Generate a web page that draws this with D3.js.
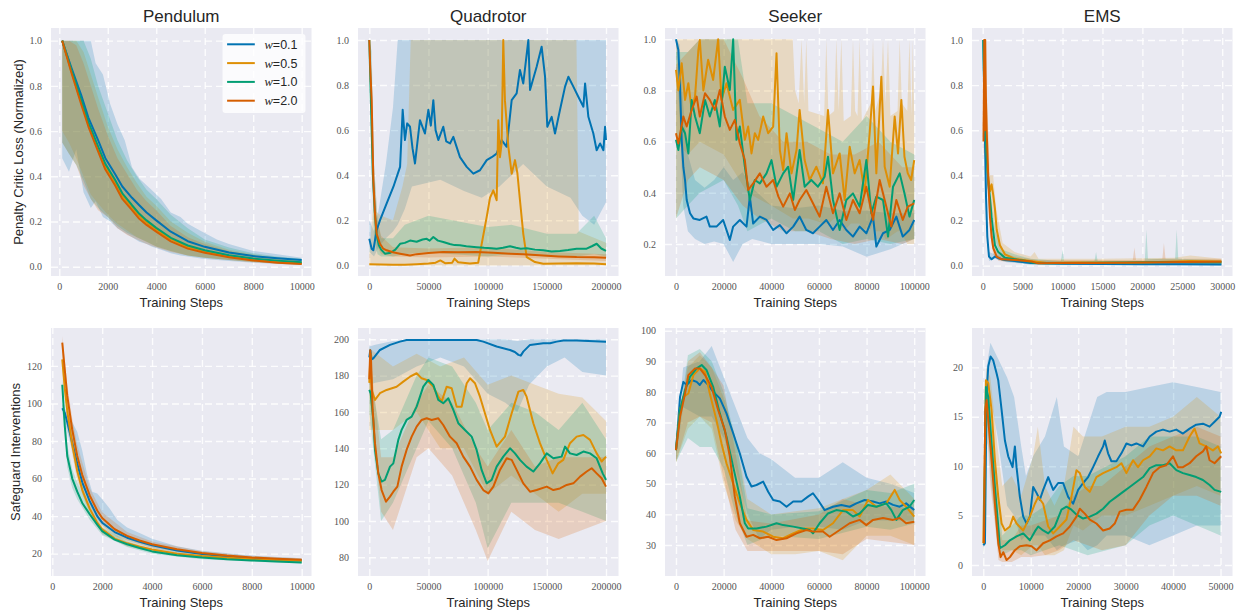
<!DOCTYPE html>
<html>
<head>
<meta charset="utf-8">
<script src="https://cdn.jsdelivr.net/npm/d3@7"></script>
<style>
    body { margin: 0; background: #fff; }
    .grid line { stroke: #fff; stroke-width: 1.4; stroke-dasharray: 7 4; opacity: 0.85; }
    .grid .domain { display: none; }
    .axis .domain { display: none; }
    .axis text { font-family: "Liberation Serif", serif; font-size: 10px; fill: #555; }
    .visTitle { font-family: "Liberation Sans", Arial, sans-serif; font-size: 17px; fill: #262626; }
    .axisLabel { font-family: "Liberation Sans", Arial, sans-serif; font-size: 13px; fill: #262626; }
    .legendText { font-family: "Liberation Sans", Arial, sans-serif; font-size: 12.5px; fill: #262626; }
</style>
</head>
<body>
<div id="chart"></div>
<script>
// ---- data: [step, value] for means, [step, lower, upper] for bands ----

// Pendulum - penalty critic loss
const pendLoss01 = [[120,1.0],[500,0.88],[900,0.76],[1200,0.66],[1600,0.56],[1900,0.48],[2300,0.41],[2600,0.355],[3000,0.305],[3300,0.272],[3600,0.24],[4000,0.205],[4600,0.155],[5300,0.113],[6000,0.088],[7000,0.063],[8000,0.047],[9000,0.038],[10000,0.03]];
const pendLoss05 = [[120,1.0],[500,0.865],[900,0.73],[1200,0.63],[1600,0.52],[1900,0.445],[2300,0.375],[2600,0.315],[3000,0.262],[3300,0.225],[3600,0.196],[4000,0.165],[4600,0.122],[5300,0.088],[6000,0.068],[7000,0.047],[8000,0.032],[9000,0.022],[10000,0.016]];
const pendLoss10 = [[120,1.0],[500,0.87],[900,0.74],[1200,0.64],[1600,0.532],[1900,0.455],[2300,0.385],[2600,0.325],[3000,0.272],[3300,0.234],[3600,0.205],[4000,0.172],[4600,0.128],[5300,0.094],[6000,0.073],[7000,0.051],[8000,0.036],[9000,0.027],[10000,0.02]];
const pendLoss20 = [[120,1.0],[500,0.858],[900,0.72],[1200,0.62],[1600,0.51],[1900,0.43],[2300,0.36],[2600,0.30],[3000,0.25],[3300,0.212],[3600,0.185],[4000,0.155],[4600,0.112],[5300,0.08],[6000,0.062],[7000,0.042],[8000,0.028],[9000,0.018],[10000,0.012]];
const pendLossBand01 = [[120,0.48,1.0],[400,0.42,1.0],[700,0.52,1.0],[1000,0.33,1.0],[1300,0.26,1.0],[1500,0.29,0.9],[1800,0.22,0.85],[2100,0.2,0.72],[2400,0.17,0.63],[2700,0.15,0.56],[3000,0.13,0.44],[3300,0.11,0.39],[3600,0.1,0.36],[3800,0.09,0.34],[4200,0.075,0.3],[4600,0.06,0.24],[5000,0.05,0.22],[5300,0.045,0.19],[5900,0.035,0.155],[6500,0.03,0.12],[7000,0.025,0.1],[8000,0.018,0.07],[9000,0.012,0.055],[10000,0.008,0.04]];
const pendLossBand05 = [[120,0.6,1.0],[400,0.55,1.0],[700,0.48,1.0],[1000,0.4,0.95],[1300,0.32,0.85],[1600,0.28,0.75],[2000,0.23,0.62],[2400,0.19,0.52],[2800,0.16,0.44],[3200,0.13,0.37],[3600,0.11,0.31],[4000,0.09,0.27],[4600,0.07,0.2],[5300,0.05,0.15],[6000,0.04,0.11],[7000,0.03,0.075],[8000,0.02,0.055],[9000,0.015,0.04],[10000,0.01,0.03]];
const pendLossBand10 = [[120,0.55,1.0],[400,0.5,1.0],[700,0.45,1.0],[1000,0.38,1.0],[1300,0.3,0.92],[1600,0.26,0.8],[2000,0.22,0.68],[2400,0.18,0.56],[2800,0.15,0.47],[3200,0.13,0.4],[3600,0.11,0.34],[4000,0.09,0.3],[4600,0.07,0.23],[5300,0.05,0.17],[6000,0.04,0.12],[7000,0.03,0.085],[8000,0.022,0.06],[9000,0.015,0.045],[10000,0.01,0.035]];
const pendLossBand20 = [[120,0.55,1.0],[400,0.5,1.0],[700,0.45,0.98],[1000,0.36,0.9],[1300,0.3,0.8],[1600,0.25,0.7],[2000,0.22,0.58],[2400,0.17,0.48],[2800,0.14,0.41],[3200,0.12,0.34],[3600,0.1,0.29],[4000,0.085,0.25],[4600,0.065,0.18],[5300,0.05,0.13],[6000,0.04,0.1],[7000,0.03,0.07],[8000,0.02,0.05],[9000,0.013,0.035],[10000,0.008,0.025]];

// Quadrotor - penalty critic loss
const quadLoss01 = [[0,0.118],[2000,0.074],[3400,0.067],[6200,0.156],[9000,0.2],[14600,0.274],[20300,0.348],[26000,0.437],[28200,0.69],[30100,0.556],[32000,0.63],[34400,0.615],[36500,0.52],[38600,0.452],[42800,0.644],[47000,0.585],[49900,0.69],[52000,0.62],[54100,0.733],[56000,0.6],[58300,0.556],[62500,0.615],[65000,0.55],[68200,0.541],[71000,0.57],[76600,0.48],[82300,0.437],[87900,0.407],[93500,0.422],[99200,0.467],[103400,0.48],[107600,0.496],[111800,0.556],[116100,0.526],[120300,0.733],[124500,0.763],[127300,0.867],[130100,0.807],[134400,1.0],[135800,0.778],[141400,0.881],[145600,0.97],[148500,0.837],[150400,0.615],[154100,0.659],[156900,0.585],[161100,0.689],[165400,0.793],[168200,0.837],[172400,0.793],[176600,0.748],[180900,0.704],[182300,0.807],[185100,0.659],[189300,0.585],[192100,0.511],[195000,0.541],[197800,0.511],[199200,0.615],[200000,0.556]];
const quadLoss05 = [[0,0.005],[10000,0.004],[20000,0.003],[30000,0.003],[40000,0.005],[50000,0.008],[56000,0.012],[60000,0.022],[64000,0.01],[70000,0.012],[72000,0.03],[75000,0.014],[85000,0.008],[92000,0.012],[95000,0.096],[99200,0.215],[102000,0.30],[104800,0.333],[107600,0.289],[109000,0.644],[110400,0.48],[111800,0.54],[113200,1.0],[114600,0.733],[117500,0.526],[120300,0.407],[123100,0.467],[125100,0.41],[127300,0.289],[130100,0.14],[133000,0.037],[140000,0.015],[147000,0.007],[160000,0.008],[175000,0.01],[190000,0.008],[200000,0.005]];
const quadLoss10 = [[0,1.0],[1500,0.7],[3000,0.4],[4500,0.25],[6000,0.14],[8000,0.09],[10000,0.07],[13200,0.052],[18000,0.056],[22000,0.07],[26000,0.096],[30000,0.1],[34400,0.11],[40000,0.105],[45000,0.115],[48500,0.118],[51000,0.11],[54100,0.126],[58000,0.11],[62500,0.104],[68000,0.095],[72000,0.09],[76600,0.089],[82000,0.085],[90700,0.081],[97000,0.078],[103000,0.076],[107600,0.074],[113000,0.078],[118900,0.085],[124000,0.078],[128000,0.074],[133000,0.076],[140000,0.07],[147000,0.067],[154000,0.062],[161100,0.064],[168000,0.068],[175200,0.074],[183600,0.074],[188000,0.085],[192100,0.096],[196000,0.075],[200000,0.064]];
const quadLoss20 = [[0,1.0],[1000,0.85],[2000,0.733],[3400,0.378],[4800,0.23],[6200,0.14],[9000,0.096],[11800,0.074],[14600,0.067],[20000,0.058],[26000,0.052],[34400,0.044],[40000,0.05],[50000,0.055],[62500,0.059],[75000,0.058],[90700,0.059],[105000,0.056],[118900,0.052],[130000,0.05],[147000,0.044],[160000,0.04],[175200,0.037],[190000,0.036],[200000,0.034]];
const quadLossBand01 = [[0,0.06,0.2],[4000,0.04,0.15],[8000,0.08,0.25],[14000,0.12,0.45],[20000,0.15,0.7],[24000,0.18,1.0],[30000,0.25,1.0],[36000,0.35,1.0],[60000,0.38,1.0],[80000,0.33,1.0],[95000,0.3,1.0],[110000,0.35,1.0],[130000,0.45,1.0],[150000,0.35,1.0],[170000,0.3,1.0],[180000,0.22,1.0],[190000,0.18,1.0],[200000,0.28,1.0]];
const quadLossBand05 = [[0,0.0,0.05],[3000,0.0,0.25],[10000,0.0,0.22],[20000,0.0,0.2],[28000,0.0,0.35],[32000,0.0,0.45],[35000,0.0,1.0],[175000,0.0,1.0],[177000,0.0,0.15],[200000,0.0,0.1]];
const quadLossBand10 = [[0,0.9,1.0],[2000,0.45,0.95],[4000,0.12,0.45],[7000,0.05,0.2],[10000,0.04,0.12],[20000,0.04,0.12],[30000,0.05,0.18],[50000,0.06,0.22],[70000,0.05,0.2],[100000,0.04,0.17],[120000,0.05,0.18],[150000,0.04,0.14],[175000,0.04,0.14],[190000,0.05,0.22],[200000,0.04,0.12]];
const quadLossBand20 = [[0,0.98,1.0],[2000,0.6,0.85],[4000,0.2,0.45],[7000,0.08,0.2],[10000,0.05,0.13],[20000,0.04,0.08],[50000,0.035,0.075],[100000,0.04,0.08],[150000,0.03,0.06],[200000,0.02,0.05]];

// Seeker - penalty critic loss
const seekLoss01 = [[0,1.0],[1000,0.958],[1700,0.815],[2400,0.607],[3100,0.50],[3800,0.45],[4500,0.372],[5900,0.32],[7300,0.30],[10000,0.294],[12800,0.307],[14200,0.268],[17000,0.268],[19800,0.294],[22600,0.216],[24000,0.268],[26800,0.294],[29600,0.268],[31000,0.385],[32400,0.28],[35200,0.307],[38000,0.294],[40800,0.255],[43600,0.274],[46400,0.242],[49200,0.268],[51900,0.307],[54700,0.255],[57500,0.242],[60300,0.268],[63100,0.294],[65900,0.255],[68700,0.294],[71500,0.255],[74300,0.229],[77100,0.268],[79900,0.242],[82700,0.307],[84100,0.19],[86900,0.242],[89700,0.255],[92500,0.307],[95200,0.229],[98000,0.255],[100000,0.294]];
const seekLoss05 = [[0,0.88],[1000,0.80],[2400,0.906],[3800,0.763],[5200,0.828],[6600,0.724],[8000,0.776],[9400,0.958],[10000,0.997],[11500,0.80],[13500,0.92],[15600,0.841],[17700,1.0],[19100,0.763],[21200,0.828],[24000,0.724],[26800,0.763],[28900,0.607],[30300,0.659],[31700,0.554],[33100,0.633],[34500,0.607],[36600,0.698],[38700,0.633],[40800,0.659],[42200,0.945],[43600,0.567],[45000,0.489],[46400,0.633],[48500,0.476],[50600,0.567],[51900,0.724],[54000,0.528],[56100,0.45],[58900,0.502],[61700,0.437],[63800,0.724],[65900,0.476],[68700,0.554],[70800,0.372],[72900,0.58],[75000,0.476],[77100,0.528],[79200,0.398],[81300,0.633],[82700,0.815],[84100,0.476],[86200,0.854],[87600,0.502],[89700,0.424],[91800,0.698],[93200,0.554],[94600,0.763],[95900,0.541],[97300,0.476],[98700,0.45],[100000,0.528]];
const seekLoss10 = [[0,0.607],[1000,0.567],[2400,0.659],[3800,0.633],[5200,0.554],[6600,0.763],[8000,0.698],[10000,0.633],[12200,0.763],[14200,0.698],[16300,0.763],[18400,0.659],[20500,0.893],[22600,0.802],[24000,1.0],[25400,0.607],[26800,0.659],[28900,0.502],[31000,0.372],[33100,0.45],[35200,0.437],[38000,0.476],[40100,0.528],[42200,0.424],[45000,0.476],[47100,0.502],[49200,0.372],[51900,0.567],[54000,0.424],[56800,0.45],[59600,0.424],[62400,0.463],[63800,0.541],[65900,0.372],[68700,0.255],[71500,0.372],[74300,0.398],[77100,0.346],[79900,0.528],[82000,0.32],[84100,0.385],[86900,0.372],[89000,0.229],[91100,0.424],[93900,0.476],[95900,0.398],[98000,0.307],[100000,0.372]];
const seekLoss20 = [[0,0.633],[1000,0.593],[3100,0.698],[4500,0.659],[6600,0.724],[8700,0.776],[10000,0.698],[12200,0.789],[14200,0.763],[16300,0.724],[18400,0.802],[20500,0.698],[22600,0.646],[24700,0.685],[26800,0.593],[28900,0.528],[30300,0.411],[32400,0.437],[35200,0.476],[38000,0.424],[40800,0.45],[43000,0.385],[45000,0.346],[47800,0.398],[49900,0.333],[51900,0.372],[54700,0.411],[57500,0.359],[60300,0.307],[63100,0.424],[65900,0.32],[68700,0.398],[71500,0.294],[74300,0.372],[77100,0.32],[79900,0.424],[82700,0.294],[85500,0.45],[88300,0.346],[90400,0.268],[92500,0.372],[95200,0.294],[97300,0.346],[100000,0.359]];
const seekLossBand01 = [[0,0.95,1.0],[1500,0.7,0.98],[3000,0.35,0.75],[5000,0.25,0.55],[8000,0.22,0.45],[12000,0.2,0.42],[16000,0.21,0.45],[20000,0.2,0.5],[24000,0.13,0.45],[28000,0.2,0.48],[32000,0.22,0.42],[40000,0.2,0.35],[50000,0.2,0.34],[60000,0.2,0.35],[70000,0.19,0.33],[80000,0.15,0.33],[90000,0.18,0.32],[100000,0.22,0.32]];
const seekLossBand05 = [[0,0.6,1.0],[5000,0.55,1.0],[10000,0.6,1.0],[20000,0.55,1.0],[30000,0.4,1.0],[40000,0.35,1.0],[49000,0.3,1.0],[50000,0.3,0.8],[51500,0.3,0.75],[52700,0.3,1.0],[53800,0.3,0.75],[54700,0.3,1.0],[55600,0.3,0.72],[62200,0.28,0.7],[63100,0.28,1.0],[64000,0.28,0.7],[66400,0.3,0.72],[67300,0.3,1.0],[68300,0.3,0.72],[69400,0.28,1.0],[70400,0.25,0.68],[73400,0.28,0.7],[74300,0.28,1.0],[75200,0.28,0.72],[76200,0.28,0.7],[77100,0.28,1.0],[78000,0.26,0.68],[81800,0.26,0.75],[82700,0.28,1.0],[83600,0.25,0.72],[86000,0.25,0.8],[86900,0.24,1.0],[87900,0.22,0.75],[89000,0.22,1.0],[90000,0.23,0.7],[93000,0.25,0.72],[93900,0.25,1.0],[94800,0.24,0.75],[97100,0.2,0.72],[98000,0.2,1.0],[98900,0.2,0.7],[99400,0.2,1.0],[100000,0.2,0.7]];
const seekLossBand10 = [[0,0.3,0.95],[5000,0.35,0.95],[10000,0.4,1.0],[20000,0.45,1.0],[26000,0.35,1.0],[30000,0.25,0.75],[40000,0.3,0.75],[50000,0.25,0.7],[60000,0.25,0.65],[70000,0.2,0.6],[80000,0.22,0.7],[90000,0.2,0.6],[100000,0.22,0.55]];
const seekLossBand20 = [[0,0.3,0.9],[5000,0.45,0.95],[10000,0.5,1.0],[20000,0.45,1.0],[28000,0.35,0.85],[35000,0.3,0.7],[45000,0.25,0.6],[55000,0.25,0.6],[65000,0.22,0.55],[75000,0.2,0.55],[85000,0.22,0.6],[95000,0.2,0.5],[100000,0.22,0.5]];

// EMS - penalty critic loss
const emsLoss01 = [[80,1.0],[165,0.8],[290,0.557],[415,0.306],[580,0.128],[790,0.04],[1120,0.028],[1540,0.04],[1960,0.033],[2790,0.025],[4040,0.02],[6000,0.012],[10000,0.008],[15000,0.007],[20000,0.006],[25000,0.006],[29900,0.005]];
const emsLoss05 = [[150,0.6],[220,1.0],[300,0.7],[450,0.55],[600,0.42],[912,0.33],[1120,0.36],[1330,0.31],[1540,0.25],[1750,0.16],[2160,0.09],[2790,0.05],[4040,0.03],[6000,0.02],[8000,0.012],[12000,0.014],[18000,0.013],[22000,0.016],[26000,0.02],[29900,0.018]];
const emsLoss10 = [[80,1.0],[205,0.75],[500,0.48],[705,0.36],[912,0.3],[1120,0.21],[1330,0.15],[1540,0.09],[1960,0.06],[2790,0.035],[4000,0.028],[5500,0.02],[6500,0.012],[8000,0.01],[12000,0.012],[18000,0.014],[24000,0.016],[29900,0.015]];
const emsLoss20 = [[100,0.55],[200,1.0],[260,0.6],[320,1.0],[400,0.75],[500,0.6],[705,0.38],[912,0.217],[1120,0.128],[1330,0.077],[1750,0.04],[2370,0.028],[4040,0.025],[6120,0.018],[6950,0.01],[9000,0.012],[14000,0.012],[20000,0.014],[25000,0.016],[29900,0.017]];
const emsLossBand01 = [[80,0.95,1.0],[300,0.45,0.65],[600,0.08,0.18],[800,0.02,0.06],[1500,0.03,0.05],[3000,0.015,0.035],[6000,0.005,0.02],[29900,0.0,0.012]];
const emsLossBand05 = [[150,0.5,1.0],[500,0.5,0.8],[900,0.25,0.4],[1300,0.22,0.4],[1700,0.1,0.25],[2500,0.03,0.1],[4000,0.02,0.06],[6000,0.01,0.04],[6500,0.01,0.06],[7000,0.01,0.03],[15000,0.005,0.03],[24000,0.005,0.035],[26000,0.005,0.045],[29900,0.005,0.03]];
const emsLossBand10 = [[80,0.9,1.0],[300,0.5,0.8],[700,0.28,0.45],[1100,0.15,0.28],[1600,0.05,0.15],[2500,0.02,0.07],[4000,0.015,0.05],[6000,0.005,0.03],[9800,0.005,0.02],[10000,0.005,0.07],[10200,0.005,0.02],[14000,0.005,0.02],[14200,0.005,0.06],[14400,0.005,0.02],[20300,0.005,0.02],[20500,0.005,0.16],[20700,0.005,0.03],[24100,0.005,0.03],[24300,0.005,0.16],[24500,0.005,0.03],[29900,0.005,0.025]];
const emsLossBand20 = [[100,0.5,1.0],[500,0.45,0.75],[900,0.15,0.3],[1300,0.05,0.12],[2000,0.02,0.06],[4000,0.015,0.04],[7000,0.005,0.025],[18800,0.005,0.025],[19000,0.005,0.08],[19200,0.005,0.025],[22500,0.005,0.03],[22700,0.005,0.1],[22900,0.005,0.03],[29900,0.005,0.03]];

// Pendulum - safeguard interventions
const pendInt01 = [[400,97.4],[500,95],[600,90],[800,79],[1000,68],[1200,58],[1500,48],[1800,40],[2000,36.5],[2500,31.5],[3000,28.5],[3500,26.3],[4000,24.5],[5000,21.7],[6000,19.8],[7000,18.5],[8000,17.6],[9000,17],[10000,16.5]];
const pendInt05 = [[400,123.5],[500,108],[600,96],[800,78],[1000,64],[1200,54],[1500,44],[1800,36.5],[2000,33],[2500,28],[3000,25.5],[3500,23.7],[4000,22.2],[5000,20],[6000,18.7],[7000,17.8],[8000,17.1],[9000,16.6],[10000,16.2]];
const pendInt10 = [[400,110],[500,88],[600,72],[800,60],[1000,53],[1200,47],[1500,41],[1800,35.5],[2000,32],[2500,27.5],[3000,25],[3500,23],[4000,21.2],[5000,19.2],[6000,17.9],[7000,17],[8000,16.4],[9000,15.8],[10000,15.3]];
const pendInt20 = [[400,132.4],[500,118],[600,104],[800,86],[1000,72],[1200,62],[1500,51],[1800,43],[2000,39],[2500,33],[3000,29.5],[3500,27],[4000,25],[5000,22.3],[6000,20.3],[7000,19],[8000,18],[9000,17.3],[10000,16.8]];
const pendIntBand01 = [[400,95,100],[600,85,95],[800,75,90],[1000,62,85],[1200,52,75],[1400,46,62],[1600,42,53],[1800,38,52],[2000,35,49],[2300,32,44],[2600,29,38],[3000,27,34],[3500,25,31],[4000,23,28],[5000,20.5,24],[6000,18.5,21.5],[8000,16.8,19],[10000,15.8,17.5]];
const pendIntBand05 = [[400,118,128],[600,90,102],[800,73,84],[1000,59,69],[1500,41,48],[2000,30.5,36],[3000,24,27.5],[4000,21,23.5],[6000,17.8,19.6],[8000,16.4,17.8],[10000,15.6,16.8]];
const pendIntBand10 = [[400,106,114],[600,66,78],[800,55,65],[1000,49,58],[1500,38,44],[2000,30,34],[3000,23.5,26.5],[4000,20,22.5],[6000,17,18.8],[8000,15.8,17],[10000,14.8,15.8]];
const pendIntBand20 = [[400,128,136],[600,98,110],[800,80,92],[1000,66,78],[1500,47,55],[2000,36,42],[3000,27.5,31.5],[4000,23.5,26.5],[6000,19.3,21.3],[8000,17.2,18.8],[10000,16.1,17.5]];

// Quadrotor - safeguard interventions
const quadInt01 = [[0,190],[800,194],[2000,189],[3400,189.5],[9000,194.1],[17500,196.9],[25900,198.7],[31500,199.6],[62500,199.6],[90700,199.6],[96300,198.7],[107600,196],[118900,194.1],[123000,193],[126000,191.4],[128000,191],[130100,193.2],[135800,196.9],[147000,197.8],[152700,197.8],[158300,198.7],[164000,199.3],[175200,199.3],[200000,198.7]];
const quadInt05 = [[0,176],[1000,192],[2000,172],[4800,166.6],[9000,170.3],[14600,172.1],[23100,173.9],[28700,176.7],[34400,179.4],[40000,181.3],[44200,178.5],[48500,177.6],[54100,173.9],[58300,168.4],[61100,165.7],[65400,173.9],[69600,173],[73800,162.9],[78000,162.9],[82300,175.8],[85100,178.5],[89300,175.8],[93500,168.4],[102000,150.1],[107600,140.9],[114600,146.4],[120300,159.3],[126000,171.2],[130100,172.1],[132900,168.4],[138600,153.8],[144200,142.8],[149900,133.6],[154900,126.2],[159700,131.7],[163900,133.6],[169600,142.8],[175200,146.4],[180900,147.3],[186500,144.6],[192100,137.2],[196300,132.7],[200000,135.4]];
const quadInt10 = [[0,172.1],[1200,170],[3400,155.6],[4800,139.1],[7600,126.2],[10400,121.7],[13200,122.6],[17500,129.9],[20300,131.7],[24500,144.6],[27300,150.1],[31500,155.6],[35800,157.4],[40000,162.9],[45600,173.9],[49900,177.6],[54100,174.9],[58300,166.6],[62500,164.8],[66800,167.5],[71000,161.1],[75200,153.8],[80800,150.1],[86500,146.4],[90700,139.1],[94900,128.1],[99200,120.7],[103400,122.6],[107600,129.9],[113200,135.4],[118900,140],[123100,137.2],[127300,133.6],[132900,129.9],[138600,127.2],[144200,131.7],[149900,137.2],[155500,134.5],[162500,135.4],[165400,140.9],[169600,137.2],[175200,136.3],[180900,138.2],[186500,137.2],[192100,134.5],[197200,126.2],[200000,122.6]];
const quadInt20 = [[0,178],[800,194],[1500,188],[2800,161.1],[4800,142.8],[7600,126.2],[10400,117],[14100,110.6],[17500,113.4],[20300,116.1],[23700,118.9],[27300,129.9],[31500,139.1],[35800,146.4],[40000,151.9],[44200,155.6],[48500,156.5],[52700,155.6],[58300,156.5],[62500,152.8],[68200,146.4],[73800,142.8],[79400,135.4],[85100,129.9],[90700,122.6],[96300,117],[100600,115.2],[104800,118.9],[110400,128.1],[116100,134.5],[120300,133.6],[124500,128.1],[130100,120.7],[135800,116.1],[141400,117],[149900,118.9],[155500,117],[161100,117.9],[166800,119.8],[172400,120.7],[178100,124.4],[183700,127.2],[187900,129],[192100,126.2],[196300,123.5],[200000,118.9]];
const quadIntBand01 = [[0,175,196],[5000,176,197],[20000,178,199],[40000,185,200],[60000,190,200],[80000,185,200],[100000,170,200],[115000,165,200],[125000,160,199],[135000,175,200],[150000,185,200],[165000,190,200],[180000,182,200],[200000,180,200]];
const quadIntBand05 = [[0,150,195],[20000,150,185],[40000,160,192],[60000,140,185],[80000,140,190],[100000,115,175],[120000,125,180],[140000,115,175],[160000,105,170],[180000,115,168],[200000,115,155]];
const quadIntBand10 = [[0,160,185],[10000,100,145],[20000,110,150],[40000,140,180],[50000,155,190],[70000,140,185],[90000,110,165],[100000,85,150],[120000,110,165],[140000,110,160],[160000,110,150],[180000,105,165],[200000,100,145]];
const quadIntBand20 = [[0,170,195],[10000,105,135],[20000,95,135],[40000,135,165],[50000,140,175],[70000,125,165],[90000,95,140],[100000,78,130],[120000,105,150],[140000,95,130],[160000,90,135],[180000,95,135],[200000,100,135]];

// Seeker - safeguard interventions
const seekInt01 = [[0,61],[1000,70.8],[1700,78.4],[3100,83.3],[4500,82.3],[6600,83.9],[8700,83.3],[10000,82.3],[11500,83.9],[13500,82.3],[15600,80.1],[18400,77.9],[21200,73],[24000,66.5],[26800,59.9],[29600,52.3],[31700,49.1],[33800,49.6],[36600,50.7],[38700,47.4],[40800,44.7],[43600,44.2],[46400,42.5],[49200,44.2],[52700,44.2],[55400,45.8],[57500,46.9],[59600,44.7],[62400,41.4],[65900,42.5],[69400,43.1],[72900,42.5],[75700,43.6],[79200,44.7],[82700,44.2],[85500,43.6],[88300,44.2],[91100,43.1],[93900,42.5],[96600,43.6],[100000,41.4]];
const seekInt05 = [[0,61],[1700,74.1],[3100,78.4],[5200,79.5],[7300,85.5],[10000,87.7],[12200,86.6],[14200,79.5],[17000,70.8],[19100,63.2],[21200,56.7],[24000,50.1],[26800,43.6],[29600,38.2],[32400,34.9],[36600,34.4],[40800,32.7],[45000,32.2],[49200,33.8],[54000,35.4],[57500,35.4],[61700,34.9],[65900,37.1],[70100,41.4],[74300,41.4],[77100,39.3],[80600,44.7],[84100,42.5],[88300,43.6],[91800,48],[93900,44.7],[96600,42.5],[100000,39.3]];
const seekInt10 = [[0,61],[1700,74.1],[3800,80.6],[5900,85],[8700,87.7],[10800,88.8],[12800,87.2],[15600,81.7],[18400,73],[21200,65.4],[24000,55.6],[26800,45.8],[28900,37.1],[30300,35.4],[33800,35.4],[38000,36],[42200,37.1],[45000,36.5],[49200,36],[53300,35.4],[56100,34.9],[57500,33.8],[60300,37.1],[63800,40.3],[67300,41.4],[71500,40.9],[74300,39.3],[77100,40.3],[80600,43.1],[84100,42.5],[88300,43.6],[90400,41.4],[92500,38.2],[95200,41.4],[98000,42.5],[100000,44.7]];
const seekInt20 = [[0,61],[1700,71.9],[3800,79.5],[5200,85.5],[8000,87.7],[10000,87.7],[12200,85.5],[14900,81.7],[17700,74.1],[20500,67.6],[22600,58.9],[24700,45.8],[26800,37.1],[29600,32.7],[32400,33.3],[35200,32.2],[38700,32.7],[42200,31.6],[46400,32.2],[50600,33.8],[54700,34.9],[57500,34.4],[61700,34.4],[64500,32.7],[68700,34.9],[72900,37.1],[77100,38.2],[79900,36.5],[82700,38.2],[86900,38.8],[91100,38.2],[93900,38.8],[96600,37.1],[100000,37.6]];
const seekIntBand01 = [[0,58,63],[3000,75,88],[10000,72,90],[15000,72,95],[20000,65,85],[25000,55,75],[30000,40,65],[35000,32,60],[40000,35,58],[50000,36,52],[60000,36,52],[70000,35,57],[80000,38,52],[90000,38,50],[100000,38,47]];
const seekIntBand05 = [[0,57,63],[5000,68,88],[10000,72,92],[15000,68,88],[20000,50,78],[25000,38,65],[30000,32,45],[40000,27,40],[50000,27,41],[60000,28,42],[70000,25,45],[80000,33,48],[90000,33,53],[100000,30,45]];
const seekIntBand10 = [[0,57,63],[5000,65,92],[10000,62,94],[15000,62,90],[20000,55,80],[25000,40,65],[30000,30,42],[40000,33,40],[60000,32,41],[80000,36,48],[90000,35,47],[100000,37,50]];
const seekIntBand20 = [[0,57,63],[5000,70,90],[10000,72,93],[15000,70,88],[20000,52,82],[25000,35,60],[30000,28,38],[40000,28,37],[60000,28,40],[70000,27,45],[80000,32,43],[100000,30,42]];

// EMS - safeguard interventions
const emsInt01 = [[0,2.0],[350,2.2],[700,17.4],[1050,20.1],[1540,21.1],[2100,20.7],[2800,19.4],[3150,18.7],[3860,15.7],[4560,12.6],[5260,11],[6170,9.9],[6660,12],[7010,9.9],[7710,6.9],[8420,4.9],[9120,4.2],[9820,4.9],[10520,7.9],[11220,7.3],[11920,6.6],[12620,7.6],[13680,8.9],[14730,7.6],[15780,8.3],[16830,8.3],[17880,6.9],[18930,6.2],[19990,7.6],[21040,8.3],[22090,8.9],[23140,9.9],[24200,11],[25250,12],[25600,12.6],[26300,11.3],[27000,10.5],[28050,10.5],[29110,11.3],[30160,12.3],[31210,12.1],[32260,12.3],[33670,12],[35070,13],[36470,13.5],[37870,13.7],[39270,13.5],[40680,13.7],[42080,13.3],[43480,13.8],[44880,14.2],[46290,14.3],[47690,14],[48740,14.5],[49790,15],[50140,15.5]];
const emsInt05 = [[0,2.2],[560,18.7],[1050,18.4],[1750,15.7],[2450,10.6],[3160,6.9],[3860,4.2],[4560,3.5],[5610,3.9],[6310,4.9],[7010,4.2],[8420,3.5],[9820,4.9],[10870,6.2],[11570,6.9],[12620,6.2],[13680,3.9],[14730,3.2],[16130,3.9],[17530,4.6],[18580,6.9],[19640,9.6],[20340,9.3],[21390,7.9],[22440,7.4],[23840,8.9],[25250,9.3],[26650,9.6],[28050,9.9],[29110,10.3],[30160,9.3],[31560,10.6],[32610,9.9],[33670,10.6],[35070,11],[36470,11.8],[37870,11.6],[39270,12],[40680,11.6],[42080,11.6],[43480,13],[44530,13.8],[45590,12.3],[46990,12],[48390,11.6],[49440,12],[50140,11.3]];
const emsInt10 = [[140,2.2],[560,18],[1050,17],[1750,12.3],[2450,7.9],[3160,3.9],[3510,1.7],[4560,2],[5610,2.5],[7010,2.9],[8420,3.2],[9820,2.5],[10870,3.4],[11570,3.9],[12620,3.5],[13680,3.2],[15080,3.9],[16480,5.6],[17530,5.9],[18580,5.6],[19640,5.1],[21040,4.7],[22440,4.9],[23840,5.2],[25250,5.7],[26650,6.4],[28050,6.9],[29460,7.4],[30860,7.9],[32260,8.4],[33670,8.9],[35070,9.8],[36470,10.1],[37870,10.1],[39270,10.3],[40680,9.6],[42080,9.3],[43480,9.1],[44880,8.9],[46290,8.6],[47690,8.1],[48740,7.6],[50140,7.4]];
const emsInt20 = [[140,2.2],[420,15.7],[700,16.7],[1050,14.7],[1750,10.6],[2450,6.2],[3160,2.2],[3650,0.8],[4210,1.3],[4910,0.5],[5610,0.8],[6660,1.5],[7710,1.9],[9120,2],[10170,1.9],[11220,1.5],[12620,2.2],[14030,2.5],[15430,2.9],[16830,3.2],[18230,3.9],[19640,4.9],[20340,5.7],[21390,5.2],[22440,4.6],[23840,4.2],[25250,3.5],[26650,3.7],[27700,4.2],[28750,5.4],[30160,5.6],[31560,5.6],[32960,6.6],[34370,7.9],[35770,9.3],[37170,9.9],[38570,10.1],[39980,11],[41030,9.9],[42080,9.9],[43480,10.3],[44880,11],[46290,11.5],[46990,12],[47690,10.6],[48740,10.3],[50140,11]];
const emsIntBand01 = [[0,1,3],[700,14,20],[1500,17,22.5],[3000,13,21],[5000,6,19],[6500,5,17],[8000,2.5,12],[9000,3,9],[10500,3,11],[13000,3,13],[15500,1.5,17],[17000,2,12],[20000,2.5,11],[22000,1.5,14],[24000,2,17],[26000,3,17.5],[30000,3,17.5],[35000,2,18],[40000,3,18.5],[45000,4,18],[50000,4,17.5]];
const emsIntBand05 = [[0,1,3],[600,16,20],[1500,11,19],[3000,4,12],[4000,1.5,8],[6000,1.5,9],[8000,1,7],[10500,2,11],[11500,2,14],[13000,1,8],[15000,1,6],[17000,1.5,8],[19000,4,14],[21000,3.5,13],[25000,5,13],[30000,5,14],[35000,6,14],[40000,7,15],[45000,8,17],[50000,7,15]];
const emsIntBand10 = [[0,1,3],[600,16,19],[1500,9,16],[3000,2,8],[4000,1,3],[6000,1.5,4],[8000,1.5,5],[10000,1,5],[13000,1.5,6],[16000,2,8],[19000,1.5,9],[22000,1,9],[26000,1.5,10],[30000,2,11],[35000,4,13],[40000,5,13],[45000,4,13],[50000,3,12]];
const emsIntBand20 = [[0,1,3],[400,13,18],[1000,12,17],[1500,8,14],[2500,4,9],[3200,0.5,4],[4000,0.3,2.5],[6000,0.3,2.5],[8000,0.8,4],[10000,0.8,4],[13000,1,4.5],[16000,1.5,5],[19000,2.5,7],[22000,2,8],[25000,1.5,8],[30000,2,10],[35000,5,12],[40000,7,13],[45000,7,14],[50000,6,13]];

const seriesColors = ["#0173b2", "#de8f05", "#029e73", "#d55e00"];
const seriesLabels = ["0.1", "0.5", "1.0", "2.0"];

// axis tick values
const pendSteps = [0, 2000, 4000, 6000, 8000, 10000];
const quadSteps = [0, 50000, 100000, 150000, 200000];
const seekSteps = [0, 20000, 40000, 60000, 80000, 100000];
const emsLossSteps = [0, 5000, 10000, 15000, 20000, 25000, 30000];
const emsIntSteps = [0, 10000, 20000, 30000, 40000, 50000];
const lossTicks = [0, 0.2, 0.4, 0.6, 0.8, 1.0];
const seekLossTicks = [0.2, 0.4, 0.6, 0.8, 1.0];
const pendIntTicks = [20, 40, 60, 80, 100, 120];
const quadIntTicks = [80, 100, 120, 140, 160, 180, 200];
const seekIntTicks = [30, 40, 50, 60, 70, 80, 90, 100];
const emsIntTicks = [0, 5, 10, 15, 20];


class CurvePanel {

    constructor(svg, cfg) {
        this.svg = svg;
        this.cfg = cfg;
        this.initVis();
    }

    initVis() {
        let vis = this;
        let c = vis.cfg;

        vis.width = 260.5;
        vis.height = 248;
        vis.g = vis.svg.append("g")
            .attr("transform", "translate(" + c.left + "," + c.top + ")");

        vis.g.append("rect")
            .attr("width", vis.width)
            .attr("height", vis.height)
            .attr("fill", "#eaeaf2");

        vis.xScale = d3.scaleLinear().domain(c.xDomain).range([0, vis.width]);
        vis.yScale = d3.scaleLinear().domain(c.yDomain).range([vis.height, 0]);

        // dashed white grid
        vis.g.append("g")
            .attr("class", "grid")
            .attr("transform", "translate(0," + vis.height + ")")
            .call(d3.axisBottom(vis.xScale).tickValues(c.xTicks).tickSize(-vis.height).tickFormat(""));
        vis.g.append("g")
            .attr("class", "grid")
            .call(d3.axisLeft(vis.yScale).tickValues(c.yTicks).tickSize(-vis.width).tickFormat(""));

        // tick labels, no tick marks
        vis.g.append("g")
            .attr("class", "axis")
            .attr("transform", "translate(0," + vis.height + ")")
            .call(d3.axisBottom(vis.xScale).tickValues(c.xTicks).tickSize(0).tickPadding(7).tickFormat(d3.format("d")));
        vis.g.append("g")
            .attr("class", "axis")
            .call(d3.axisLeft(vis.yScale).tickValues(c.yTicks).tickSize(0).tickPadding(9).tickFormat(c.yFormat));

        let clipId = "clip-" + c.id;
        vis.g.append("clipPath").attr("id", clipId)
            .append("rect").attr("width", vis.width).attr("height", vis.height);
        vis.plot = vis.g.append("g").attr("clip-path", "url(#" + clipId + ")");

        let area = d3.area()
            .x(d => vis.xScale(d[0]))
            .y0(d => vis.yScale(d[1]))
            .y1(d => vis.yScale(d[2]));
        let line = d3.line()
            .x(d => vis.xScale(d[0]))
            .y(d => vis.yScale(d[1]));

        vis.plot.selectAll("path.band")
            .data(c.bands)
            .enter()
            .append("path")
            .attr("class", "band")
            .attr("d", area)
            .attr("fill", (d, i) => seriesColors[i])
            .attr("fill-opacity", 0.2);

        vis.plot.selectAll("path.mean")
            .data(c.means)
            .enter()
            .append("path")
            .attr("class", "mean")
            .attr("d", line)
            .attr("fill", "none")
            .attr("stroke", (d, i) => seriesColors[i])
            .attr("stroke-width", 2)
            .attr("stroke-linejoin", "round");

        // titles and labels
        if (c.title) {
            vis.g.append("text")
                .attr("class", "visTitle")
                .attr("x", vis.width / 2)
                .attr("y", -6.5)
                .attr("text-anchor", "middle")
                .text(c.title);
        }
        vis.g.append("text")
            .attr("class", "axisLabel")
            .attr("x", vis.width / 2)
            .attr("y", vis.height + 31)
            .attr("text-anchor", "middle")
            .text("Training Steps");
        if (c.yLabel) {
            vis.g.append("text")
                .attr("class", "axisLabel")
                .attr("text-anchor", "middle")
                .attr("transform", "translate(" + (c.yLabelX - c.left) + "," + (vis.height / 2) + ") rotate(-90)")
                .text(c.yLabel);
        }

        if (c.legend) vis.drawLegend();
    }

    drawLegend() {
        let vis = this;

        let box = vis.g.append("g")
            .attr("transform", "translate(" + (vis.width - 89) + ",6)");
        box.append("rect")
            .attr("width", 83)
            .attr("height", 79)
            .attr("rx", 3)
            .attr("fill", "#fff")
            .attr("fill-opacity", 0.8);

        let rows = box.selectAll("g.entry")
            .data(seriesLabels)
            .enter()
            .append("g")
            .attr("class", "entry")
            .attr("transform", (d, i) => "translate(0," + (10.3 + i * 18.8) + ")");
        rows.append("line")
            .attr("x1", 4.6).attr("x2", 32.3)
            .attr("stroke", (d, i) => seriesColors[i])
            .attr("stroke-width", 2);
        let t = rows.append("text")
            .attr("class", "legendText")
            .attr("x", 42)
            .attr("dy", "0.36em");
        t.append("tspan")
            .attr("font-family", "'Liberation Serif', serif")
            .attr("font-style", "italic")
            .text("w");
        t.append("tspan").text(d => "=" + d);
    }
}

let svg = d3.select("#chart")
    .append("svg")
    .attr("width", 1245)
    .attr("height", 613);

let fmt1 = d3.format(".1f");
let fmtInt = d3.format("d");

let panels = [
    {id: "p0", left: 51, top: 28, title: "Pendulum", xDomain: [-342, 10404], yDomain: [-0.041, 1.056],
        xTicks: pendSteps, yTicks: lossTicks, yFormat: fmt1, legend: true,
        yLabel: "Penalty Critic Loss (Normalized)", yLabelX: 22.5,
        means: [pendLoss01, pendLoss05, pendLoss10, pendLoss20],
        bands: [pendLossBand01, pendLossBand05, pendLossBand10, pendLossBand20]},
    {id: "p1", left: 358, top: 28, title: "Quadrotor", xDomain: [-9548, 210558], yDomain: [-0.047, 1.053],
        xTicks: quadSteps, yTicks: lossTicks, yFormat: fmt1,
        means: [quadLoss01, quadLoss05, quadLoss10, quadLoss20],
        bands: [quadLossBand01, quadLossBand05, quadLossBand10, quadLossBand20]},
    {id: "p2", left: 665, top: 28, title: "Seeker", xDomain: [-4608, 104733], yDomain: [0.075, 1.044],
        xTicks: seekSteps, yTicks: seekLossTicks, yFormat: fmt1,
        means: [seekLoss01, seekLoss05, seekLoss10, seekLoss20],
        bands: [seekLossBand01, seekLossBand05, seekLossBand10, seekLossBand20]},
    {id: "p3", left: 972, top: 28, title: "EMS", xDomain: [-1338, 31288], yDomain: [-0.046, 1.053],
        xTicks: emsLossSteps, yTicks: lossTicks, yFormat: fmt1,
        means: [emsLoss01, emsLoss05, emsLoss10, emsLoss20],
        bands: [emsLossBand01, emsLossBand05, emsLossBand10, emsLossBand20]},
    {id: "p4", left: 51, top: 328, xDomain: [-52, 10393], yDomain: [8.1, 140.2],
        xTicks: pendSteps, yTicks: pendIntTicks, yFormat: fmtInt,
        yLabel: "Safeguard Interventions", yLabelX: 19.5,
        means: [pendInt01, pendInt05, pendInt10, pendInt20],
        bands: [pendIntBand01, pendIntBand05, pendIntBand10, pendIntBand20]},
    {id: "p5", left: 358, top: 328, xDomain: [-9548, 210558], yDomain: [69.7, 206.2],
        xTicks: quadSteps, yTicks: quadIntTicks, yFormat: fmtInt,
        means: [quadInt01, quadInt05, quadInt10, quadInt20],
        bands: [quadIntBand01, quadIntBand05, quadIntBand10, quadIntBand20]},
    {id: "p6", left: 665, top: 328, xDomain: [-4608, 104733], yDomain: [19.87, 100.9],
        xTicks: seekSteps, yTicks: seekIntTicks, yFormat: fmtInt,
        means: [seekInt01, seekInt05, seekInt10, seekInt20],
        bands: [seekIntBand01, seekIntBand05, seekIntBand10, seekIntBand20]},
    {id: "p7", left: 972, top: 328, xDomain: [-2377, 52520], yDomain: [-1.11, 23.98],
        xTicks: emsIntSteps, yTicks: emsIntTicks, yFormat: fmtInt,
        means: [emsInt01, emsInt05, emsInt10, emsInt20],
        bands: [emsIntBand01, emsIntBand05, emsIntBand10, emsIntBand20]}
];

panels.forEach(p => new CurvePanel(svg, p));
</script>
</body>
</html>
